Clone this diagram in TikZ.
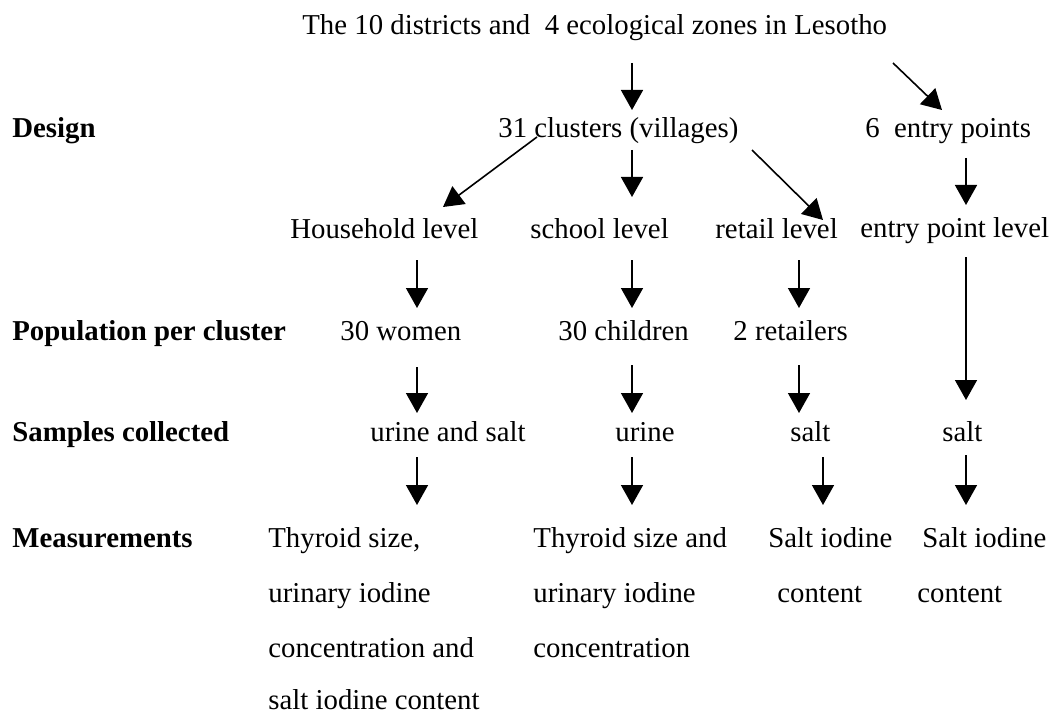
\documentclass[tikz,border=0pt]{standalone}
\usepackage{fontspec}
\setmainfont{Liberation Serif}
\usetikzlibrary{arrows.meta,calc}
\begin{document}
\begin{tikzpicture}[x=0.5pt,y=-0.5pt,
  txt/.style={anchor=base west,inner sep=0pt,font=\fontsize{14.4}{17}\selectfont},
  lbl/.style={anchor=base west,inner sep=0pt,font=\fontsize{14.4}{17}\selectfont\bfseries},
  arr/.style={-{Triangle[length=10pt,width=11pt]},line width=0.8pt}]
\useasboundingbox (0,0) rectangle (1061,717);
% column coordinates
\coordinate (cA) at (417,0);
\coordinate (cB) at (632,0);
\coordinate (cC) at (799,0);
\coordinate (cC2) at (823,0);
\coordinate (cD) at (966,0);
% left labels
\node[lbl] (lDesign) at (12,138) {Design};
\node[lbl] (lPop) at (12,340) {Population per cluster};
\node[lbl] (lSamp) at (12,441) {Samples collected};
\node[lbl] (lMeas) at (12,547) {Measurements};
% title
\node[txt] (title) at (302,35) {The 10 districts and~~4 ecological zones in Lesotho};
% design row
\node[txt] (clusters) at (498,138) {31 clusters (villages)};
\node[txt] (entry) at (865,138) {6~~entry points};
% level row
\node[txt] (house) at (290,238) {Household level};
\node[txt] (school) at (530,238) {school level};
\node[txt] (retail) at (715,238) {retail level};
\node[txt] (entlev) at (860,237) {entry point level};
% population row
\node[txt] (women) at (340,340) {30 women};
\node[txt] (children) at (558,340) {30 children};
\node[txt] (retailers) at (733,340) {2 retailers};
% samples row
\node[txt] (s1) at (370,441) {urine and salt};
\node[txt] (s2) at (615,441) {urine};
\node[txt] (s3) at (790,441) {salt};
\node[txt] (s4) at (942,441) {salt};
% measurements
\node[txt] (m1) at (268,547) {Thyroid size,};
\node[txt] (m1b) at (268,602) {urinary iodine};
\node[txt] (m1c) at (268,657) {concentration and};
\node[txt] (m1d) at (268,709) {salt iodine content};
\node[txt] (m2) at (533,547) {Thyroid size and};
\node[txt] (m2b) at (533,602) {urinary iodine};
\node[txt] (m2c) at (533,657) {concentration};
\node[txt] (m3) at (768,547) {Salt iodine};
\node[txt] (m3b) at (777,602) {content};
\node[txt] (m4) at (922,547) {Salt iodine};
\node[txt] (m4b) at (917,602) {content};
% arrows
\draw[arr] ($(title.base -| cB)+(0,28)$) -- ($(clusters.base -| cB)+(0,-28)$);
\draw[arr] ($(title.base west)+(591,28)$) -- ($(entry.base west)+(77,-28)$);
\draw[arr] ($(clusters.base west)+(39,-1)$) -- ($(house.base west)+(153,-31)$);
\draw[arr] ($(clusters.base -| cB)+(0,12)$) -- ($(school.base -| cB)+(0,-41)$);
\draw[arr] ($(clusters.base west)+(254,12)$) -- ($(retail.base west)+(108,-18)$);
\draw[arr] ($(entry.base -| cD)+(0,20)$) -- ($(entlev.base -| cD)+(0,-32)$);
\draw[arr] ($(house.base -| cA)+(0,22)$) -- ($(women.base -| cA)+(0,-32)$);
\draw[arr] ($(school.base -| cB)+(0,22)$) -- ($(children.base -| cB)+(0,-32)$);
\draw[arr] ($(retail.base -| cC)+(0,22)$) -- ($(retailers.base -| cC)+(0,-32)$);
\draw[arr] ($(entlev.base -| cD)+(0,20)$) -- ($(s4.base -| cD)+(0,-41)$);
\draw[arr] ($(women.base -| cA)+(0,27)$) -- ($(s1.base -| cA)+(0,-28)$);
\draw[arr] ($(children.base -| cB)+(0,25)$) -- ($(s2.base -| cB)+(0,-28)$);
\draw[arr] ($(retailers.base -| cC)+(0,25)$) -- ($(s3.base -| cC)+(0,-28)$);
\draw[arr] ($(s1.base -| cA)+(0,16)$) -- ($(m1.base -| cA)+(0,-42)$);
\draw[arr] ($(s2.base -| cB)+(0,16)$) -- ($(m2.base -| cB)+(0,-42)$);
\draw[arr] ($(s3.base -| cC2)+(0,16)$) -- ($(m3.base -| cC2)+(0,-42)$);
\draw[arr] ($(s4.base -| cD)+(0,14)$) -- ($(m4.base -| cD)+(0,-42)$);
\end{tikzpicture}
\end{document}
